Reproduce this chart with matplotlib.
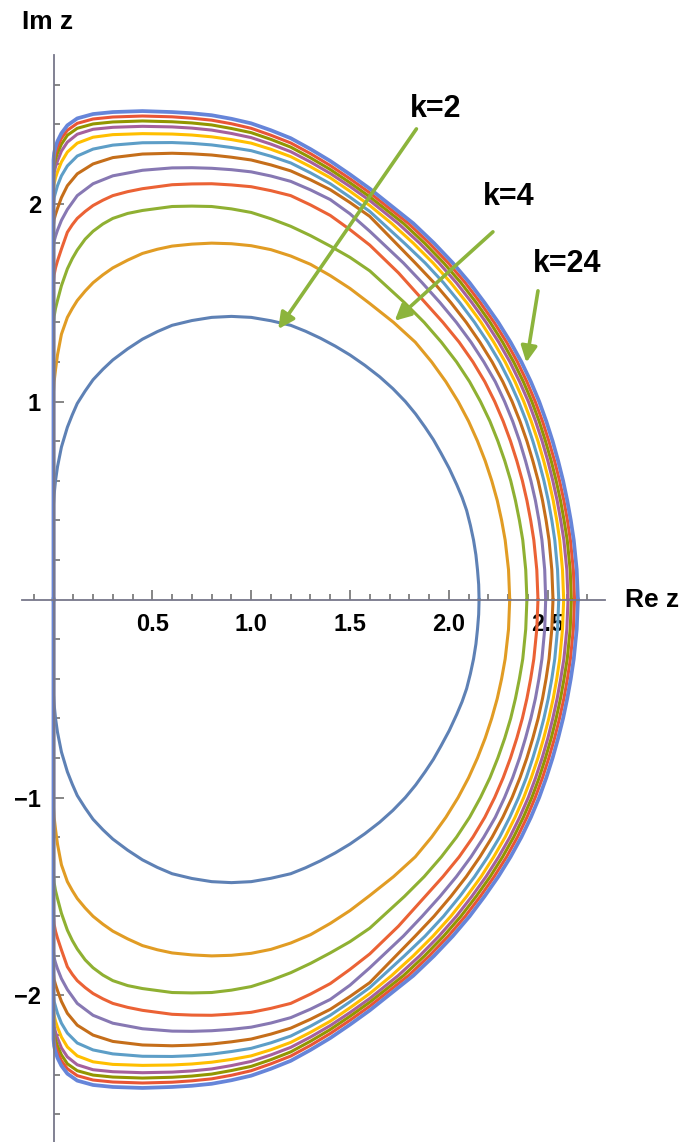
import numpy as np
from matplotlib import pyplot as plt

plt.rcParams['font.family'] = ['Liberation Sans', 'DejaVu Sans']

# upper halves (Re z, Im z) of the boundary curves, the lower halves are mirrored.
# left/top part read at fixed Re z, right part read at fixed Im z
xl = [0, 0, .003, .01, .02, .04, .07, .12, .2, .3, .45, .6, .7, .8, .9, 1.0, 1.1, 1.2, 1.3, 1.4, 1.5, 1.6]
yr = [1.9, 1.8, 1.7, 1.6, 1.5, 1.4, 1.3, 1.2, 1.1, 1.0, 0.9, 0.8, 0.7, 0.6, 0.5, 0.4, 0.3, 0.15, 0]

x2 = [0, 0, .003, .01, .02, .04, .07, .095, .12, .16, .2, .25, .3, .375, .45, .525, .6, .7, .8, .9, 1.0, 1.1, 1.2,
      1.275, 1.35, 1.425, 1.5, 1.575, 1.65, 1.717, 1.78, 1.832, 1.88, 1.922, 1.96, 2.002, 2.04, 2.067, 2.09,
      2.109, 2.125, 2.137, 2.145, 2.151, 2.153]
y2 = [0, 0.48, 0.53, 0.60, 0.67, 0.77, 0.87, 0.933, 0.99, 1.053, 1.11, 1.163, 1.21, 1.266, 1.315, 1.353, 1.385,
      1.409, 1.425, 1.43, 1.425, 1.408, 1.385,
      1.355, 1.32, 1.28, 1.235, 1.183, 1.125, 1.065, 1.0, 0.937, 0.87, 0.807, 0.74, 0.662, 0.58, 0.516, 0.45,
      0.375, 0.3, 0.225, 0.15, 0.075, 0]

x4 = [0, 0, .003, .01, .02, .04, .07, .095, .12, .16, .2, .25, .3, .375, .45, .525, .6, .7, .8, .9, 1.0, 1.1, 1.2,
      1.3, 1.4, 1.5, 1.6, 1.72, 1.83, 1.913, 1.985, 2.047, 2.10, 2.145, 2.184, 2.217, 2.245, 2.267, 2.285, 2.302, 2.308]
y4 = [0, 1.05, 1.10, 1.16, 1.235, 1.34, 1.425, 1.47, 1.51, 1.558, 1.60, 1.64, 1.675, 1.714, 1.748, 1.769, 1.785,
      1.795, 1.80, 1.797, 1.787, 1.767, 1.735,
      1.693, 1.636, 1.571, 1.495, 1.4, 1.3, 1.2, 1.1, 1.0, 0.9, 0.8, 0.7, 0.6, 0.5, 0.4, 0.3, 0.15, 0]

x6 = [0, 0, .003, .01, .02, .04, .07, .095, .12, .16, .2, .25, .3, .375, .45, .6, .7, .8, .9, 1.0, 1.1, 1.2,
      1.3, 1.4, 1.5, 1.6] + [1.775, 1.875, 1.962, 2.039, 2.105, 2.16, 2.208, 2.248, 2.283, 2.313, 2.337, 2.357,
                             2.374, 2.389, 2.395]
y6 = [0, 1.39, 1.43, 1.47, 1.51, 1.585, 1.67, 1.722, 1.765, 1.82, 1.86, 1.897, 1.925, 1.95, 1.965, 1.985, 1.987,
      1.985, 1.973, 1.955, 1.923, 1.885, 1.838, 1.785, 1.728, 1.66] + yr[4:]

x8 = [0, 0, .003, .01, .02, .04, .07, .095, .12, .16, .2, .25, .3, .375, .45, .6, .7, .8, .9, 1.0, 1.1, 1.2,
      1.3, 1.4, 1.5, 1.6] + [1.745, 1.88, 1.97, 2.052, 2.122, 2.182, 2.232, 2.275, 2.312, 2.344, 2.372, 2.395,
                             2.414, 2.43, 2.445, 2.451]
y8 = [0, 1.60, 1.64, 1.675, 1.71, 1.77, 1.855, 1.893, 1.925, 1.96, 1.99, 2.017, 2.04, 2.06, 2.075, 2.095, 2.099,
      2.10, 2.094, 2.085, 2.065, 2.04, 1.993, 1.94, 1.868, 1.79] + [1.65] + yr[4:]

x10 = xl + [1.77, 1.865, 1.955, 2.038, 2.112, 2.177, 2.235, 2.282, 2.323, 2.358, 2.388, 2.415, 2.438, 2.456,
            2.471, 2.485, 2.49]
y10 = [0, 1.78, 1.81, 1.835, 1.865, 1.915, 1.97, 2.04, 2.10, 2.14, 2.168, 2.18, 2.181, 2.178, 2.171, 2.16,
       2.139, 2.112, 2.069, 2.02, 1.948, 1.86] + yr[2:]

x12 = xl + [1.83, 1.925, 2.01, 2.088, 2.157, 2.219, 2.273, 2.32, 2.36, 2.395, 2.425, 2.452, 2.474, 2.492,
            2.507, 2.521, 2.527]
y12 = [0, 1.89, 1.92, 1.945, 1.975, 2.03, 2.09, 2.15, 2.20, 2.232, 2.25, 2.254, 2.251, 2.245, 2.234, 2.22,
       2.195, 2.165, 2.12, 2.07, 2.005, 1.935] + yr[2:]

x14 = xl + [1.775, 1.88, 1.973, 2.055, 2.13, 2.197, 2.257, 2.308, 2.353, 2.392, 2.425, 2.455, 2.481, 2.503,
            2.521, 2.536, 2.55, 2.556]
y14 = [0, 2.00, 2.03, 2.055, 2.09, 2.14, 2.19, 2.24, 2.275, 2.295, 2.307, 2.308, 2.304, 2.296, 2.283, 2.267,
       2.239, 2.205, 2.155, 2.10, 2.032, 1.96] + yr[1:]

x16 = xl + [1.71, 1.82, 1.92, 2.01, 2.09, 2.163, 2.227, 2.285, 2.335, 2.379, 2.417, 2.451, 2.48, 2.506,
            2.528, 2.546, 2.561, 2.575, 2.581]
y16 = [0, 2.07, 2.10, 2.13, 2.16, 2.21, 2.26, 2.305, 2.335, 2.348, 2.353, 2.351, 2.346, 2.337, 2.323, 2.305,
       2.274, 2.237, 2.186, 2.13, 2.062, 1.99] + yr

x18 = xl + [1.743, 1.852, 1.95, 2.038, 2.116, 2.188, 2.252, 2.309, 2.358, 2.402, 2.439, 2.472, 2.501, 2.526,
            2.548, 2.566, 2.582, 2.597, 2.603]
y18 = [0, 2.12, 2.155, 2.185, 2.215, 2.265, 2.31, 2.35, 2.375, 2.385, 2.39, 2.387, 2.381, 2.371, 2.354, 2.333,
       2.30, 2.262, 2.21, 2.152, 2.086, 2.015] + yr

x20 = xl + [1.77, 1.877, 1.974, 2.061, 2.138, 2.209, 2.272, 2.328, 2.377, 2.42, 2.457, 2.489, 2.518, 2.543,
            2.565, 2.583, 2.599, 2.614, 2.62]
y20 = [0, 2.16, 2.195, 2.225, 2.255, 2.30, 2.345, 2.38, 2.402, 2.412, 2.417, 2.413, 2.407, 2.397, 2.379, 2.358,
       2.324, 2.285, 2.231, 2.172, 2.105, 2.034] + yr

x22 = xl + [1.795, 1.901, 1.997, 2.083, 2.159, 2.229, 2.292, 2.347, 2.395, 2.437, 2.474, 2.506, 2.535, 2.56,
            2.582, 2.60, 2.615, 2.63, 2.636]
y22 = [0, 2.19, 2.225, 2.255, 2.285, 2.33, 2.37, 2.405, 2.427, 2.437, 2.442, 2.438, 2.431, 2.421, 2.403, 2.38,
       2.345, 2.306, 2.252, 2.192, 2.125, 2.054] + yr

x24 = xl + [1.82, 1.925, 2.02, 2.105, 2.18, 2.25, 2.312, 2.367, 2.415, 2.457, 2.493, 2.525, 2.553, 2.578,
            2.599, 2.617, 2.632, 2.647, 2.653]
y24 = [0, 2.22, 2.255, 2.285, 2.315, 2.355, 2.395, 2.43, 2.452, 2.462, 2.467, 2.462, 2.456, 2.446, 2.428, 2.405,
       2.37, 2.33, 2.275, 2.215, 2.147, 2.075] + yr

ks = [2, 4, 6, 8, 10, 12, 14, 16, 18, 20, 22, 24]
colors = ['#5E81B5', '#E19C24', '#8FB032', '#EB6235', '#8778B3', '#C56E1A',
          '#5D9EC7', '#FFBF00', '#A5609D', '#929600', '#E95536', '#6685D9']
curves = [(x2, y2), (x4, y4), (x6, y6), (x8, y8), (x10, y10), (x12, y12),
          (x14, y14), (x16, y16), (x18, y18), (x20, y20), (x22, y22), (x24, y24)]

# labels with arrow (text pos, arrow start, arrow tip)
labels = ['k=2', 'k=4', 'k=24']
label_pos = [(1.934, 2.478), (2.303, 2.031), (2.599, 1.695)]
arrow_from = [(1.836, 2.377), (2.223, 1.857), (2.451, 1.559)]
arrow_to = [(1.137, 1.366), (1.726, 1.408), (2.392, 1.197)]

fig = plt.figure(figsize=(6.93, 11.42), dpi=100)
ax = fig.add_axes([0.0316, 0.0, 0.8414, 0.9518])

for k, (x, y), c in zip(ks, curves, colors):
    x = np.array(x)
    y = np.array(y)
    lw = 2.7 if k == 24 else 2.2
    ax.plot(x, y, color=c, lw=lw, solid_joinstyle='round')
    ax.plot(x, -y, color=c, lw=lw, solid_joinstyle='round')

ax.set_xlim(-0.16, 2.79)
ax.set_ylim(-2.74, 2.75)

for s in ['top', 'right']:
    ax.spines[s].set_visible(False)
ax.spines['left'].set_position(('data', 0))
ax.spines['bottom'].set_position(('data', 0))
for s in ['left', 'bottom']:
    ax.spines[s].set_color('#77778a')
    ax.spines[s].set_linewidth(1.3)
    ax.spines[s].set_zorder(3)

ax.set_xticks([0.5, 1.0, 1.5, 2.0, 2.5])
ax.set_xticklabels(['0.5', '1.0', '1.5', '2.0', '2.5'])
xm = [t for t in np.arange(-0.1, 2.75, 0.1) if abs(t * 2 - round(t * 2)) > 1e-6]
ax.set_xticks(xm, minor=True)
ax.set_yticks([-2, -1, 1, 2])
ax.set_yticklabels(['\u22122', '\u22121', '1', '2'])
ym = [t for t in np.arange(-2.6, 2.61, 0.2) if abs(t - round(t)) > 1e-6]
ax.set_yticks(ym, minor=True)

ax.tick_params(which='both', direction='in', color='#666666', width=1.1)
ax.tick_params(which='major', length=7)
ax.tick_params(which='minor', length=4.5)
ax.tick_params(axis='x', which='major', pad=10, labelsize=17)
ax.tick_params(axis='y', which='major', pad=9, labelsize=17)
for t in ax.get_xticklabels() + ax.get_yticklabels():
    t.set_fontweight('bold')

fig.text(48 / 693, 1 - 22 / 1142, 'Im z', ha='center', va='center',
         fontsize=19, fontweight='bold')
fig.text(625 / 693, 1 - 600 / 1142, 'Re z', ha='left', va='center',
         fontsize=19, fontweight='bold')

for lab, p, a, b in zip(labels, label_pos, arrow_from, arrow_to):
    ax.text(p[0], p[1], lab, ha='center', va='center', fontsize=22,
            fontweight='bold', zorder=5)
    ax.annotate('', xy=b, xytext=a,
                arrowprops=dict(arrowstyle='-|>', color='#8CB43C', lw=2.6,
                                mutation_scale=24, shrinkA=0, shrinkB=0),
                zorder=5)

fig.savefig('out.png', dpi=100)
